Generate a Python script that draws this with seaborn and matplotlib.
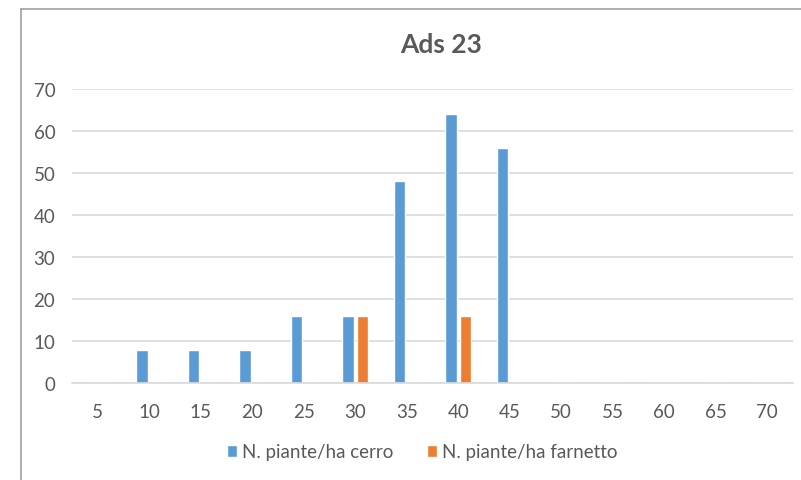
import matplotlib
matplotlib.use("Agg")
import matplotlib.pyplot as plt
from matplotlib.lines import Line2D
import seaborn as sns
import pandas as pd

categories = ["5", "10", "15", "20", "25", "30", "35", "40", "45", "50", "55", "60", "65", "70"]
cerro = [0, 8, 8, 8, 16, 16, 48, 64, 56, 0, 0, 0, 0, 0]
farnetto = [0, 0, 0, 0, 0, 16, 0, 16, 0, 0, 0, 0, 0, 0]
series_names = ["N. piante/ha cerro", "N. piante/ha farnetto"]
yticks = [0, 10, 20, 30, 40, 50, 60, 70]
title = "Ads 23"

df = pd.DataFrame({
    "cat": categories * 2,
    "val": cerro + farnetto,
    "serie": [series_names[0]] * len(categories) + [series_names[1]] * len(categories),
})

sns.set_theme(style="white")
plt.rcParams["font.family"] = ["Lato", "DejaVu Sans"]
TXT = "#595959"

W, H = 801, 481
fig = plt.figure(figsize=(W / 100, H / 100), dpi=100)
left, right, top, bottom = 72, 793, 90, 384.3
ax = fig.add_axes([left / W, (H - bottom) / H, (right - left) / W, (bottom - top) / H])

sns.barplot(data=df, x="cat", y="val", hue="serie", order=categories,
            hue_order=series_names, palette=["#5B9BD5", "#ED7D31"],
            width=0.565, gap=0.2, ax=ax, saturation=1, legend=True)

ax.set_ylim(0, 70)
ax.set_xlim(-0.5, len(categories) - 0.5)
ax.set_yticks(yticks)
ax.yaxis.grid(True, color="#D9D9D9", linewidth=1.2)
ax.set_axisbelow(True)
for s in ["top", "right", "left"]:
    ax.spines[s].set_visible(False)
ax.spines["bottom"].set_color("#D9D9D9")
ax.spines["bottom"].set_linewidth(1.2)
ax.tick_params(axis="y", length=0, pad=12, labelsize=13.5, labelcolor=TXT)
ax.tick_params(axis="x", length=0, pad=14, labelsize=13.5, labelcolor=TXT)
ax.set_xlabel("")
ax.set_ylabel("")

handles, labels = ax.get_legend_handles_labels()
ax.get_legend().remove()
fig.legend(handles, labels, loc="center", bbox_to_anchor=(422 / W, (H - 453) / H),
           ncol=2, frameon=False, fontsize=13.5, labelcolor=TXT,
           handlelength=0.55, handleheight=0.55, handletextpad=0.25, columnspacing=1.8)

fig.text(441 / W, (H - 45) / H, title, ha="center", va="center",
         fontsize=19, fontweight="bold", color=TXT)

# chart frame (left and top edges visible)
fig.add_artist(Line2D([20.5 / W, 20.5 / W], [0, (H - 9.5) / H], color="#A0A0A0", linewidth=1.2))
fig.add_artist(Line2D([20.5 / W, 1.0], [(H - 9.5) / H, (H - 9.5) / H], color="#A0A0A0", linewidth=1.2))

fig.savefig("out.png", dpi=100, facecolor="white")
